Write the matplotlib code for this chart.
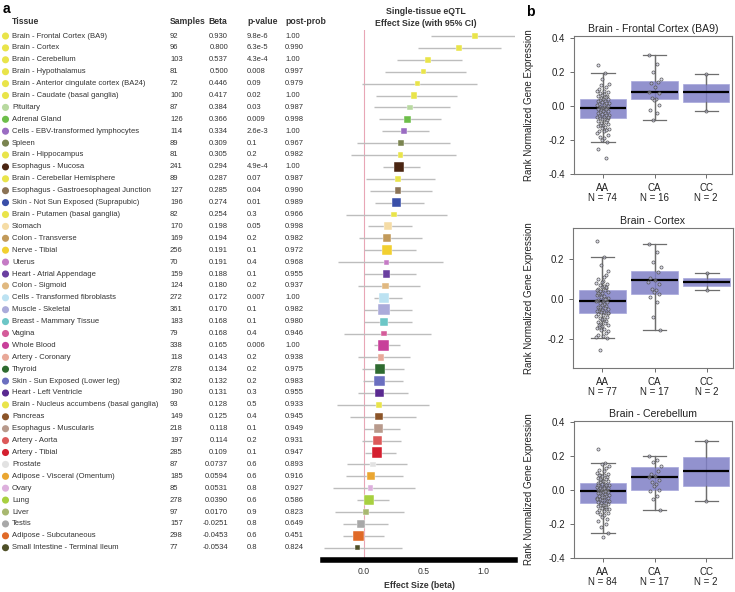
import numpy as np
import matplotlib
matplotlib.use("Agg")
import matplotlib.pyplot as plt
from matplotlib.transforms import blended_transform_factory

plt.rcParams['font.family'] = ['Liberation Sans', 'DejaVu Sans']
plt.rcParams['axes.unicode_minus'] = False

# ---- panel a data ----
tissues = ["Brain - Frontal Cortex (BA9)", "Brain - Cortex", "Brain - Cerebellum", "Brain - Hypothalamus",
           "Brain - Anterior cingulate cortex (BA24)", "Brain - Caudate (basal ganglia)", "Pituitary",
           "Adrenal Gland", "Cells - EBV-transformed lymphocytes", "Spleen", "Brain - Hippocampus",
           "Esophagus - Mucosa", "Brain - Cerebellar Hemisphere", "Esophagus - Gastroesophageal Junction",
           "Skin - Not Sun Exposed (Suprapubic)", "Brain - Putamen (basal ganglia)", "Stomach",
           "Colon - Transverse", "Nerve - Tibial", "Uterus", "Heart - Atrial Appendage", "Colon - Sigmoid",
           "Cells - Transformed fibroblasts", "Muscle - Skeletal", "Breast - Mammary Tissue", "Vagina",
           "Whole Blood", "Artery - Coronary", "Thyroid", "Skin - Sun Exposed (Lower leg)",
           "Heart - Left Ventricle", "Brain - Nucleus accumbens (basal ganglia)", "Pancreas",
           "Esophagus - Muscularis", "Artery - Aorta", "Artery - Tibial", "Prostate",
           "Adipose - Visceral (Omentum)", "Ovary", "Lung", "Liver", "Testis", "Adipose - Subcutaneous",
           "Small Intestine - Terminal Ileum"]
samples = [92, 96, 103, 81, 72, 100, 87, 126, 114, 89, 81, 241, 89, 127, 196, 82, 170, 169, 256, 70,
           159, 124, 272, 361, 183, 79, 338, 118, 278, 302, 190, 93, 149, 218, 197, 285, 87, 185, 85,
           278, 97, 157, 298, 77]
beta_txt = ["0.930", "0.800", "0.537", "0.500", "0.446", "0.417", "0.384", "0.366", "0.334", "0.309",
            "0.305", "0.294", "0.287", "0.285", "0.274", "0.254", "0.198", "0.194", "0.191", "0.191",
            "0.188", "0.180", "0.172", "0.170", "0.168", "0.168", "0.165", "0.143", "0.134", "0.132",
            "0.131", "0.128", "0.125", "0.118", "0.114", "0.109", "0.0737", "0.0594", "0.0531", "0.0390",
            "0.0170", "-0.0251", "-0.0453", "-0.0534"]
pvals = ["9.8e-6", "6.3e-5", "4.3e-4", "0.008", "0.09", "0.02", "0.03", "0.009", "2.6e-3", "0.1",
         "0.2", "4.9e-4", "0.07", "0.04", "0.01", "0.3", "0.05", "0.2", "0.1", "0.4", "0.1", "0.2",
         "0.007", "0.1", "0.1", "0.4", "0.006", "0.2", "0.2", "0.2", "0.3", "0.5", "0.4", "0.1", "0.2",
         "0.1", "0.6", "0.6", "0.8", "0.6", "0.9", "0.8", "0.6", "0.8"]
postprob = ["1.00", "0.990", "1.00", "0.997", "0.979", "1.00", "0.987", "0.998", "1.00", "0.967",
            "0.982", "1.00", "0.987", "0.990", "0.989", "0.966", "0.998", "0.982", "0.972", "0.968",
            "0.955", "0.937", "1.00", "0.982", "0.980", "0.946", "1.00", "0.938", "0.975", "0.983",
            "0.955", "0.933", "0.945", "0.949", "0.931", "0.947", "0.893", "0.916", "0.927", "0.586",
            "0.823", "0.649", "0.451", "0.824"]
ci_lo = [0.56, 0.45, 0.275, 0.175, -0.02, 0.10, 0.08, 0.13, 0.15, -0.06, -0.11, 0.16, 0.02, 0.05, 0.09,
         -0.15, 0.03, -0.04, 0.00, -0.22, 0.00, -0.05, 0.08, 0.00, 0.00, -0.17, 0.08, -0.05, -0.02, -0.01,
         -0.05, -0.23, -0.12, 0.00, -0.02, 0.01, -0.14, -0.15, -0.26, -0.06, -0.24, -0.18, -0.18, -0.34]
ci_hi = [1.29, 1.15, 0.82, 0.86, 0.95, 0.78, 0.72, 0.65, 0.55, 0.72, 0.77, 0.47, 0.60, 0.57, 0.50,
         0.70, 0.40, 0.49, 0.44, 0.66, 0.44, 0.47, 0.32, 0.40, 0.40, 0.56, 0.30, 0.39, 0.34, 0.33,
         0.37, 0.55, 0.44, 0.30, 0.31, 0.27, 0.36, 0.33, 0.43, 0.21, 0.34, 0.20, 0.17, 0.32]
brain = '#E9E44A'
colors = [brain, brain, brain, brain, brain, brain, '#B8D9A0', '#6DBE4A', '#9A6CC2', '#7A8450', brain,
          '#4A2512', brain, '#8B7355', '#3A4FA8', brain, '#F5DCA6', '#C29A5A', '#F2D030', '#C57BC5',
          '#6A3FA0', '#E0B880', '#BCE2F2', '#ABABDA', '#6CC6C6', '#D45C9A', '#C8409A', '#E8A898',
          '#2E6B30', '#6B6FC0', '#5A2A90', brain, '#8B5428', '#B89A8C', '#DC5A5A', '#D42030',
          '#E2E2E2', '#EAA632', '#DDB0DD', '#A8D040', '#A8B870', '#A8A8A8', '#E06A28', '#4F5028']

# ---- panel b data ----
box_titles = ["Brain - Frontal Cortex (BA9)", "Brain - Cortex", "Brain - Cerebellum"]
genotypes = ["AA", "CA", "CC"]
group_n = [[74, 16, 2], [77, 17, 2], [84, 17, 2]]
box_med = [[-0.011, 0.081, 0.079], [-0.010, 0.095, 0.087], [-0.004, 0.074, 0.109]]
box_q1 = [[-0.070, 0.038, 0.025], [-0.068, 0.027, 0.067], [-0.078, 0.000, 0.025]]
box_q3 = [[0.040, 0.148, 0.128], [0.045, 0.140, 0.107], [0.039, 0.136, 0.194]]
box_lo = [[-0.211, -0.083, -0.028], [-0.197, -0.153, 0.045], [-0.253, -0.120, -0.064]]
box_hi = [[0.195, 0.299, 0.187], [0.210, 0.273, 0.128], [0.156, 0.202, 0.286]]

aa_p1 = [0.24, 0.195, 0.16, 0.13, 0.11, 0.10, 0.09, 0.085, 0.08, 0.075, 0.07, 0.066, 0.06, 0.055, 0.05,
         0.046, 0.042, 0.038, 0.034, 0.03, 0.026, 0.022, 0.018, 0.014, 0.01, 0.006, 0.003, 0.0, -0.004,
         -0.008, -0.011, -0.013, -0.016, -0.02, -0.024, -0.028, -0.032, -0.036, -0.04, -0.044, -0.048,
         -0.052, -0.056, -0.06, -0.063, -0.066, -0.069, -0.072, -0.076, -0.08, -0.085, -0.09, -0.095,
         -0.10, -0.105, -0.11, -0.115, -0.12, -0.125, -0.13, -0.135, -0.14, -0.145, -0.15, -0.16, -0.17,
         -0.18, -0.19, -0.20, -0.211, -0.254, -0.309, 0.12, -0.065]
ca_p1 = [0.299, 0.244, 0.201, 0.158, 0.142, 0.132, 0.113, 0.081, 0.077, 0.044, 0.040, 0.034, 0.005,
         -0.024, -0.044, -0.083]
cc_p1 = [0.187, -0.028]
aa_p2 = [0.29, 0.21, 0.17, 0.14, 0.12, 0.10, 0.09, 0.08, 0.075, 0.07, 0.065, 0.06, 0.055, 0.05, 0.045,
         0.04, 0.035, 0.03, 0.025, 0.02, 0.015, 0.01, 0.005, 0.0, -0.005, -0.01, -0.012, -0.015, -0.02,
         -0.025, -0.03, -0.035, -0.04, -0.045, -0.05, -0.052, -0.055, -0.058, -0.06, -0.063, -0.066,
         -0.068, -0.07, -0.075, -0.08, -0.085, -0.09, -0.095, -0.10, -0.105, -0.11, -0.115, -0.12, -0.125,
         -0.13, -0.135, -0.14, -0.145, -0.15, -0.155, -0.16, -0.17, -0.18, -0.185, -0.19, -0.197, -0.255,
         0.11, 0.085, 0.062, 0.032, -0.002, -0.038, -0.072, -0.1, -0.128, 0.045]
ca_p2 = [0.273, 0.233, 0.187, 0.162, 0.133, 0.107, 0.095, 0.083, 0.073, 0.048, 0.045, 0.037, 0.025,
         0.012, -0.013, -0.088, -0.153]
cc_p2 = [0.128, 0.045]
aa_p3 = [0.239, 0.156, 0.15, 0.14, 0.13, 0.12, 0.11, 0.10, 0.095, 0.09, 0.085, 0.08, 0.075, 0.07, 0.065,
         0.06, 0.055, 0.05, 0.045, 0.04, 0.037, 0.034, 0.03, 0.027, 0.024, 0.02, 0.017, 0.014, 0.01,
         0.007, 0.004, 0.0, -0.003, -0.006, -0.009, -0.012, -0.015, -0.018, -0.021, -0.024, -0.027, -0.03,
         -0.034, -0.038, -0.042, -0.046, -0.05, -0.054, -0.058, -0.062, -0.066, -0.07, -0.074, -0.078,
         -0.082, -0.086, -0.09, -0.095, -0.10, -0.105, -0.11, -0.115, -0.12, -0.125, -0.13, -0.135, -0.14,
         -0.15, -0.16, -0.17, -0.18, -0.2, -0.22, -0.253, -0.274, 0.062, 0.028, -0.008, -0.04, -0.068,
         -0.098, 0.09, 0.012, -0.052]
ca_p3 = [0.202, 0.177, 0.165, 0.142, 0.113, 0.093, 0.080, 0.074, 0.060, 0.049, 0.033, 0.025, 0.002,
         -0.008, -0.037, -0.052, -0.12]
cc_p3 = [0.286, -0.064]
points = [[aa_p1, ca_p1, cc_p1], [aa_p2, ca_p2, cc_p2], [aa_p3, ca_p3, cc_p3]]
y_ticks = [[-0.4, -0.2, 0.0, 0.2, 0.4], [-0.2, 0.0, 0.2], [-0.4, -0.2, 0.0, 0.2, 0.4]]
y_lims = [(-0.40, 0.41), (-0.345, 0.355), (-0.40, 0.405)]

# ---- layout helpers (pixels of a 735x592 canvas) ----
W, H = 735, 592
fig = plt.figure(figsize=(W / 100, H / 100), dpi=100)


def fx(px):
    return px / W


def fy(py):
    return 1 - py / H


txt = '#333333'
n = len(tissues)
row_top, row_step = 36, 11.9

# forest plot axes
x0_px, x1_px, zero_px, unit_px = 323, 515, 364, 119
ax = fig.add_axes([fx(x0_px), fy(560), (x1_px - x0_px) / W, (560 - 30) / H])
ax.set_xlim((x0_px - zero_px) / unit_px, (x1_px - zero_px) / unit_px)
ax.set_ylim((560 - row_top) / row_step, (30 - row_top) / row_step)
rows = np.arange(n)
beta = np.array([float(b) for b in beta_txt])
ax.axvline(0, color='#E8A6B6', lw=0.8, zorder=1)
ax.hlines(rows, ci_lo, ci_hi, color='#BDBDBD', lw=1.0, zorder=2)
ax.scatter(beta, rows, s=np.array(samples) * 0.19, marker='s', c=colors, edgecolors='white',
           linewidths=0.3, zorder=3)
for s in ['top', 'left', 'right']:
    ax.spines[s].set_visible(False)
ax.spines['bottom'].set_linewidth(4)
ax.set_yticks([])
ax.set_xticks([0.0, 0.5, 1.0])
ax.set_xticklabels(["0.0", "0.5", "1.0"])
ax.tick_params(axis='x', length=0, pad=5, labelsize=6.2, labelcolor=txt)
fig.text(fx(426), fy(12), "Single-tissue eQTL", ha='center', va='center', fontsize=6.3,
         fontweight='bold', color=txt)
fig.text(fx(426), fy(24), "Effect Size (with 95% CI)", ha='center', va='center', fontsize=6.3,
         fontweight='bold', color=txt)
fig.text(fx(419), fy(586), "Effect Size (beta)", ha='center', va='center', fontsize=6.3,
         fontweight='bold', color=txt)

# table
tr = blended_transform_factory(fig.transFigure, ax.transData)
ax.scatter(np.full(n, fx(5.5)), rows, s=26, c=colors, transform=tr, clip_on=False, edgecolors='none')
for i in range(n):
    kw = dict(transform=tr, va='center', fontsize=5.5, color=txt, clip_on=False)
    ax.text(fx(12), i, tissues[i], ha='left', **kw)
    ax.text(fx(170), i, str(samples[i]), ha='left', **kw)
    ax.text(fx(228), i, beta_txt[i], ha='right', **kw)
    ax.text(fx(247), i, pvals[i], ha='left', **kw)
    ax.text(fx(285), i, postprob[i], ha='left', **kw)
hdr = dict(va='center', fontsize=6.2, fontweight='bold', color=txt)
fig.text(fx(12), fy(22), "Tissue", ha='left', **hdr)
fig.text(fx(170), fy(22), "Samples", ha='left', **hdr)
fig.text(fx(208), fy(22), "Beta", ha='left', **hdr)
fig.text(fx(247), fy(22), "p-value", ha='left', **hdr)
fig.text(fx(285), fy(22), "post-prob", ha='left', **hdr)
fig.text(fx(3), fy(9), "a", ha='left', va='center', fontsize=10, fontweight='bold')
fig.text(fx(526), fy(12), "b", ha='left', va='center', fontsize=10, fontweight='bold')

# box plots
frames = [(574, 36, 732, 174), (573, 228, 733, 368), (574, 421, 732, 558)]
jitter = [-0.8, 0.3, -0.2, 0.9, 0.5, -0.6, 0.1, -0.9, 0.7, -0.4, 0.2, -0.1, 0.6, -0.7, 0.4, -0.3,
          0.8, 0.0, -0.5]
for k in range(3):
    l, t, r, b = frames[k]
    bx = fig.add_axes([fx(l), fy(b), (r - l) / W, (b - t) / H])
    stats = []
    for g in range(3):
        stats.append(dict(med=box_med[k][g], q1=box_q1[k][g], q3=box_q3[k][g],
                          whislo=box_lo[k][g], whishi=box_hi[k][g], fliers=[]))
    pos = [1, 2, 3]
    bx.vlines(pos, [box_lo[k][g] for g in range(3)], [box_hi[k][g] for g in range(3)],
              color='#6E6E6E', lw=0.9, zorder=1)
    bx.bxp(stats, positions=pos, widths=0.9, patch_artist=True, showfliers=False,
           boxprops=dict(facecolor='#7F7FC6', edgecolor='#A8A8DC', lw=0.6, alpha=0.85),
           medianprops=dict(color='black', lw=1.6),
           whiskerprops=dict(color='#6E6E6E', lw=0.9),
           capprops=dict(color='#6E6E6E', lw=0.9), capwidths=0.45)
    for g in range(3):
        vals = points[k][g]
        xs = [pos[g] + 0.13 * jitter[j % len(jitter)] for j in range(len(vals))]
        if len(vals) <= 2:
            xs = [pos[g]] * len(vals)
        bx.scatter(xs, vals, s=5, facecolors=(0.75, 0.75, 0.85, 0.5), edgecolors='#555555',
                   linewidths=0.5, zorder=4)
    bx.set_xlim(0.44, 3.5)
    bx.set_ylim(*y_lims[k])
    bx.set_yticks(y_ticks[k])
    bx.set_yticklabels(["%.1f" % v for v in y_ticks[k]])
    bx.set_xticks(pos)
    bx.set_xticklabels(["%s\nN = %d" % (genotypes[g], group_n[k][g]) for g in range(3)],
                       linespacing=1.0)
    bx.tick_params(labelsize=7, colors='#555555', labelcolor='#222222', length=3, width=0.6)
    for s in bx.spines.values():
        s.set_color('#777777')
        s.set_linewidth(0.8)
    bx.set_title(box_titles[k], fontsize=7.6, color='#222222', pad=3)
    bx.set_ylabel("Rank Normalized Gene Expression", fontsize=7, color='#222222')
    bx.yaxis.set_label_coords(-(l - 534) / (r - l), 0.5)

fig.savefig("out.png", dpi=100)
